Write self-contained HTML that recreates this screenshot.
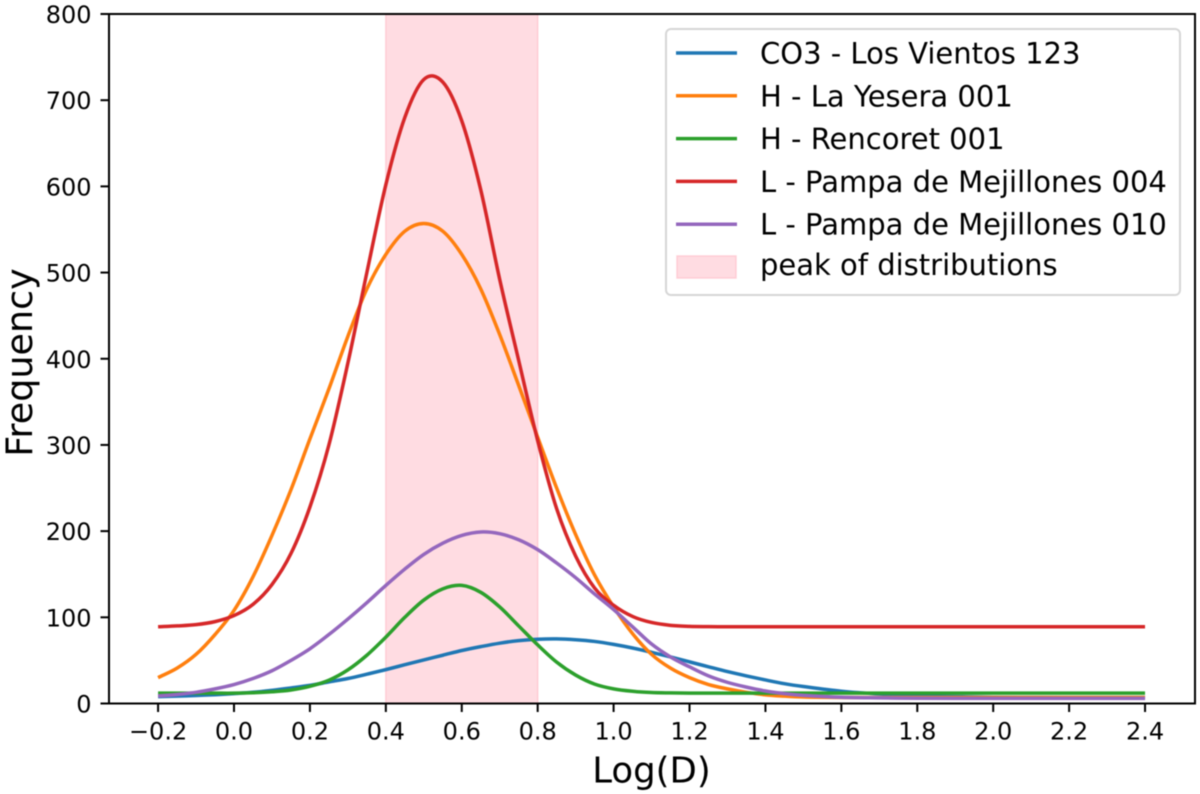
<!DOCTYPE html>
<html lang="en">
<head>
<meta charset="utf-8">
<title>Frequency vs Log(D)</title>
<style>
html,body{margin:0;padding:0;background:#fff;}
svg{display:block;font-family:"DejaVu Sans","Liberation Sans",sans-serif;filter:blur(0.45px);}
</style>
</head>
<body>
<svg id="chart" width="1200" height="794" viewBox="0 0 1200 794" xmlns="http://www.w3.org/2000/svg"></svg>
<script>
const xValues = [-0.2,-0.15,-0.1,-0.05,0,0.05,0.1,0.15,0.2,0.25,0.3,0.35,0.4,0.45,0.5,0.55,0.6,0.65,0.7,0.75,0.8,0.85,0.9,0.95,1.0,1.05,1.1,1.15,1.2,1.25,1.3,1.35,1.4,1.45,1.5,1.6,1.7,1.8,2.0,2.2,2.4];
const co3LosVientos123 = [8,8.6,9.3,10.2,11.5,13,15.3,18,21,25,29,34,39.3,45,50.6,56,61.5,66,70,73,74.6,75,74,72,68.6,64.4,59.4,54,48.3,42.6,37,32,27.3,23,19.7,14.3,11,9,7.3,7,7];
const hLaYesera001 = [30,41,57,80,108,147,195,248,307,365,426,481,521,548,557,548,521,481,428,369,309,250,196,149,112,81,57,41,30,22,17,13,10,8.5,7.5,7,7,7,7,7,7];
const hRencoret001 = [12,12,12,12,12,12.5,13.6,15.7,20,27,39,56,77,100,120,133,137,129,112,90,68,48,33,22.5,17,14.2,12.8,12.3,12,12,12,12,12,12,12,12,12,12,12,12,12];
const lPampaDeMejillones004 = [89,90,91.5,95,102,115,138,174,228,300,395,500,602,680,724,721,676,596,492,398,305,226,171,134,114,101,94,90.7,89.5,89.2,89,89,89,89,89,89,89,89,89,89,89];
const lPampaDeMejillones010 = [8.8,10.5,13,17,22,29,38,50,63.5,80,98,117,137,156,173,186,195,199,197,190,178.5,163,146,127,109,89,69,54,42.5,32,24.5,19,14.5,11.4,9.4,7.2,6.5,6.1,6,6,6];
const xTicks = [-0.2,0,0.2,0.4,0.6,0.8,1.0,1.2,1.4,1.6,1.8,2.0,2.2,2.4];
const yTicks = [0,100,200,300,400,500,600,700,800];
const peakBand = [0.4,0.8];
const seriesLabels = ["CO3 - Los Vientos 123","H - La Yesera 001","H - Rencoret 001","L - Pampa de Mejillones 004","L - Pampa de Mejillones 010"];
const bandLabel = "peak of distributions";
const xAxisTitle = "Log(D)";
const yAxisTitle = "Frequency";

const NS = "http://www.w3.org/2000/svg";
const svg = document.getElementById("chart");
const plot = {left:109,right:1195,top:14,bottom:703.5};
const sx = v => 234 + v * 379.6;
const sy = v => 703.5 - v * (689.5 / 800);
const seriesColors = ["#1f77b4","#ff7f0e","#2ca02c","#d62728","#9467bd"];
const seriesValues = [co3LosVientos123,hLaYesera001,hRencoret001,lPampaDeMejillones004,lPampaDeMejillones010];
const seriesNames = ["series-co3-los-vientos-123","series-h-la-yesera-001","series-h-rencoret-001","series-l-pampa-004","series-l-pampa-010"];

function make(tag, attrs, parent, text){
  const el = document.createElementNS(NS, tag);
  for (const k in attrs) el.setAttribute(k, attrs[k]);
  if (text !== undefined) el.textContent = text;
  (parent || svg).appendChild(el);
  return el;
}
function fmt(v){
  const s = Math.abs(v).toFixed(1);
  return (v < 0 ? "\u2212" : "") + s;
}
function curve(ys){
  const p = xValues.map((x,i)=>[sx(x),sy(ys[i])]);
  let d = "M" + p[0][0].toFixed(2) + " " + p[0][1].toFixed(2);
  const slope = i => {
    const a = p[Math.max(i-1,0)], b = p[Math.min(i+1,p.length-1)];
    return (b[1]-a[1])/(b[0]-a[0]);
  };
  for (let i=0;i<p.length-1;i++){
    const h = (p[i+1][0]-p[i][0])/3;
    d += "C"+(p[i][0]+h).toFixed(2)+" "+(p[i][1]+slope(i)*h).toFixed(2)+" "+(p[i+1][0]-h).toFixed(2)+" "+(p[i+1][1]-slope(i+1)*h).toFixed(2)+" "+p[i+1][0].toFixed(2)+" "+p[i+1][1].toFixed(2);
  }
  return d;
}

const band = make("rect",{x:sx(peakBand[0]),y:plot.top,width:sx(peakBand[1])-sx(peakBand[0]),height:plot.bottom-plot.top,fill:"#ffc0cb","fill-opacity":0.55,stroke:"#ffc0cb","stroke-opacity":0.7,"stroke-width":1.5});



seriesValues.forEach((ys,i)=>{
  const line = make("path",{d:curve(ys),fill:"none",stroke:seriesColors[i],"stroke-width":3.5,"stroke-linejoin":"round"});
  
  
});

xTicks.forEach(v=>{
  const t = make("line",{x1:sx(v),x2:sx(v),y1:plot.bottom,y2:plot.bottom+8.5,stroke:"#000","stroke-width":2});
  
  
  const l = make("text",{x:sx(v),y:739.5,"text-anchor":"middle","font-size":24,fill:"#000"},svg,fmt(v));
  
  
});
yTicks.forEach(v=>{
  const t = make("line",{x1:plot.left-8.5,x2:plot.left,y1:sy(v),y2:sy(v),stroke:"#000","stroke-width":2});
  
  
  const l = make("text",{x:91.5,y:sy(v)+9,"text-anchor":"end","font-size":24,fill:"#000"},svg,String(v));
  
  
});

const frame = make("rect",{x:plot.left,y:plot.top,width:plot.right-plot.left,height:plot.bottom-plot.top,fill:"none",stroke:"#000","stroke-width":2});



const xt = make("text",{x:651.5,y:782.5,"text-anchor":"middle","font-size":35.5,fill:"#000"},svg,xAxisTitle);


const yt = make("text",{x:0,y:0,transform:"translate(32 362.5) rotate(-90)","text-anchor":"middle","font-size":36.5,fill:"#000"},svg,yAxisTitle);



const legend = make("g",{});


const box = make("rect",{x:666,y:29,width:514,height:266,rx:5,ry:5,fill:"#fff","fill-opacity":0.8,stroke:"#d6d6d6","stroke-width":2},legend);


const rowY = r => 53 + r * 42.8;
seriesLabels.forEach((label,i)=>{
  const h = make("line",{x1:676,x2:737,y1:rowY(i),y2:rowY(i),stroke:seriesColors[i],"stroke-width":3.5},legend);
  
  
  const t = make("text",{x:760,y:rowY(i)+10.5,"font-size":29,fill:"#000"},legend,label);
  
  
});
const swatch = make("rect",{x:677,y:rowY(5)-11,width:59,height:22,fill:"#ffc0cb","fill-opacity":0.55,stroke:"#ffc0cb","stroke-opacity":0.7,"stroke-width":1.5},legend);


const st = make("text",{x:760,y:rowY(5)+8,"font-size":29,fill:"#000"},legend,bandLabel);


</script>
</body>
</html>
